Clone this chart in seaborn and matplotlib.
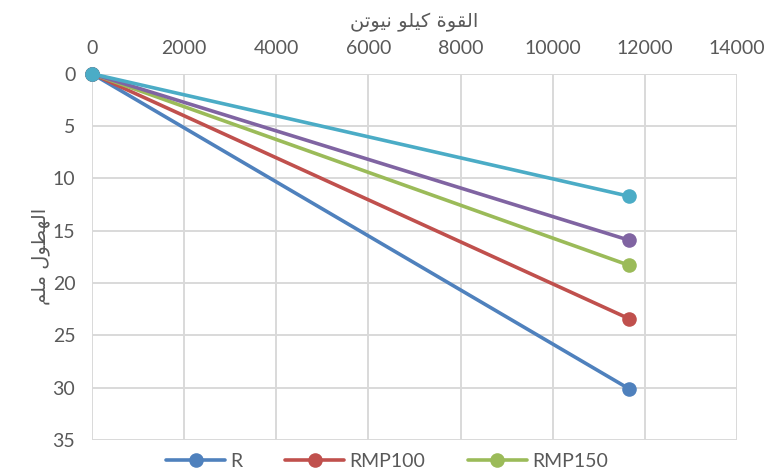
import pandas as pd
import matplotlib
matplotlib.use('Agg')
import matplotlib.pyplot as plt
import seaborn as sns

# Data (force kN vs displacement mm)
series_names = ['R', 'RMP100', 'RMP150', 'RMP200', 'RMP250']
force_kn = [0, 11650]
disp_R = [0, 30.1]
disp_RMP100 = [0, 23.4]
disp_RMP150 = [0, 18.3]
disp_RMP200 = [0, 15.9]
disp_RMP250 = [0, 11.7]
colors = ['#4F81BD', '#C0504D', '#9BBB59', '#8064A2', '#4BACC6']

# Arabic text pre-shaped (presentation forms, visual order) since matplotlib has no shaping
def visual(shaped):
    return shaped[::-1]

x_title = visual('\uFE8D\uFEDF\uFED8\uFEEE\uFE93 \uFEDB\uFEF4\uFEE0\uFEEE \uFEE7\uFEF4\uFEEE\uFE97\uFEE6')
y_title = visual('\uFE8D\uFEDF\uFEEC\uFEC4\uFEEE\uFEDD \uFEE3\uFEE0\uFEE2')

rows = []
for name, vals in zip(series_names, [disp_R, disp_RMP100, disp_RMP150, disp_RMP200, disp_RMP250]):
    for f, d in zip(force_kn, vals):
        rows.append({'force': f, 'disp': d, 'series': name})
df = pd.DataFrame(rows)

sns.set_style('white')
plt.rcParams['font.family'] = ['Lato', 'DejaVu Sans']
text_col = '#595959'
grid_col = '#D9D9D9'

fig = plt.figure(figsize=(7.67, 4.70), dpi=100)
ax = fig.add_axes([0.12, 0.064, 0.841, 0.779])

sns.lineplot(data=df, x='force', y='disp', hue='series', hue_order=series_names,
             palette=colors, marker='o', markersize=10.5, markeredgewidth=0,
             linewidth=2.6, sort=False, ax=ax, zorder=3)
for line in ax.lines:
    line.set_clip_on(False)

ax.set_xlim(0, 14000)
ax.set_ylim(35, 0)
ax.set_xticks(range(0, 14001, 2000))
ax.set_yticks(range(0, 36, 5))
ax.xaxis.tick_top()
ax.xaxis.set_label_position('top')
ax.grid(True, color=grid_col, linewidth=1.4, zorder=0)
for s in ax.spines.values():
    s.set_visible(False)
ax.tick_params(axis='both', length=0, labelsize=14, colors=text_col, pad=12)

ax.set_xlabel(x_title, family=['DejaVu Sans'], fontsize=14, color=text_col, labelpad=9)
ax.set_ylabel(y_title, family=['DejaVu Sans'], fontsize=14, color=text_col, labelpad=2)

handles, labels = ax.get_legend_handles_labels()
ax.legend(handles[:3], labels[:3], loc='center', bbox_to_anchor=(0.505, 0.018),
          bbox_transform=fig.transFigure, ncol=3, frameon=False, fontsize=14,
          handlelength=3.0, columnspacing=2.2, handletextpad=0.3,
          labelcolor=text_col)

fig.savefig('out.png', dpi=100)
